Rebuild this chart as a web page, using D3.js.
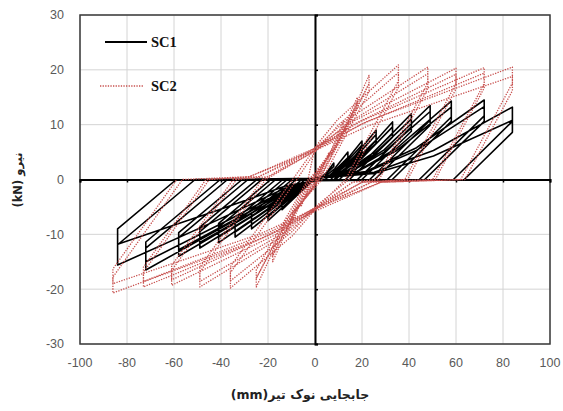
<!DOCTYPE html>
<html>
<head>
<meta charset="utf-8">
<script src="https://cdn.jsdelivr.net/npm/d3@7/dist/d3.min.js"></script>
<style>
  body { margin: 0; background: #ffffff; }
  svg { display: block; }
</style>
</head>
<body>
<svg id="chart" width="563" height="411"></svg>
<script>
// Axis ticks
const xTicks = [-100, -80, -60, -40, -20, 0, 20, 40, 60, 80, 100];
const yTicks = [-30, -20, -10, 0, 10, 20, 30];

// Series names (legend)
const seriesNames = ["SC1", "SC2"];

// SC1: tip displacement (mm), force (kN) - cyclic loops in loading order
const sc1Points = [
  [0, 0], [2.4, 0.3], [4.8, 1.2], [8, 3], [8, 2.4], [2.3, 0], [0, -0.2], [-1.2, -0.3], [-4, -1.45], [-8, -3], [-8, -2.3], [-1.7, 0],
  [0, 0.2], [4.2, 0.5], [8.4, 2], [14, 5], [14, 4], [4.5, 0], [0, -0.2], [-2.1, -0.55], [-7, -2.65], [-14, -5.5], [-14, -4.2], [-2.4, 0],
  [0, 0.2], [6, 0.7], [12, 2.8], [20, 7], [20, 5.6], [6.7, 0], [0, -0.2], [-3, -0.75], [-10, -3.6], [-20, -7.5], [-20, -5.7], [-4.2, 0],
  [0, 0.2], [6, 0.6], [12, 2.5], [20, 6.3], [20, 5], [8.1, 0], [0, -0.2], [-3, -0.7], [-10, -3.25], [-20, -6.8], [-20, -5.2], [-5.6, 0],
  [0, 0.2], [7.8, 0.9], [15.6, 3.6], [26, 9], [26, 7.2], [8.9, 0], [0, -0.2], [-4, -0.9], [-13.5, -4.3], [-27, -9], [-27, -6.8], [-8, 0],
  [0, 0.2], [7.8, 0.8], [15.6, 3.3], [26, 8.2], [26, 6.6], [10.4, 0], [0, -0.2], [-4, -0.8], [-13.5, -3.9], [-27, -8.2], [-27, -6.2], [-9.7, 0],
  [0, 0.2], [9.9, 1.05], [19.8, 4.2], [33, 10.5], [33, 8.4], [13, 0], [0, -0.2], [-5.1, -1.05], [-17, -5], [-34, -10.5], [-34, -8], [-11.8, 0],
  [0, 0.2], [9.9, 0.96], [19.8, 3.8], [33, 9.6], [33, 7.7], [14.7, 0], [0, -0.2], [-5.1, -0.96], [-17, -4.6], [-34, -9.6], [-34, -7.3], [-13.7, 0],
  [0, 0.2], [12.3, 1.2], [24.6, 4.8], [41, 12], [41, 9.6], [18.1, 0], [0, -0.2], [-6.2, -1.15], [-20.5, -5.5], [-41, -11.5], [-41, -8.7], [-16.7, 0],
  [0, 0.2], [12.3, 1.1], [24.6, 4.4], [41, 11], [41, 8.8], [20, 0], [0, -0.2], [-6.2, -1.05], [-20.5, -5], [-41, -10.5], [-41, -8], [-18.8, 0],
  [0, 0.2], [14.7, 1.35], [29.4, 5.4], [49, 13.5], [49, 10.8], [23.3, 0], [0, -0.2], [-7.4, -1.25], [-24.5, -6], [-49, -12.5], [-49, -9.5], [-22.6, 0],
  [0, 0.2], [14.7, 1.25], [29.4, 5], [49, 12.4], [49, 9.9], [25.4, 0], [0, -0.2], [-7.4, -1.15], [-24.5, -5.5], [-49, -11.5], [-49, -8.7], [-24.7, 0],
  [0, 0.2], [17.4, 1.4], [34.8, 5.7], [58, 14.3], [58, 11.4], [30.8, 0], [0, -0.2], [-8.7, -1.4], [-29, -6.7], [-58, -14], [-58, -10.6], [-28.5, 0],
  [0, 0.2], [17.4, 1.3], [34.8, 5.3], [58, 13.2], [58, 10.6], [32.9, 0], [0, -0.2], [-8.7, -1.3], [-29, -6.1], [-58, -12.8], [-58, -9.7], [-31, 0],
  [0, 0.2], [21.6, 1.45], [43.2, 5.8], [72, 14.5], [72, 11.6], [44.4, 0], [0, -0.2], [-10.8, -1.65], [-36, -7.9], [-72, -16.5], [-72, -12.5], [-37.2, 0],
  [0, 0.2], [21.6, 1.3], [43.2, 5.3], [72, 13.3], [72, 10.6], [46.7, 0], [0, -0.2], [-10.8, -1.5], [-36, -7.2], [-72, -15], [-72, -11.4], [-40.3, 0],
  [0, 0.2], [25.2, 1.3], [50.4, 5.3], [84, 13.2], [84, 10.6], [58.9, 0], [0, -0.2], [-12.6, -1.55], [-42, -7.5], [-84, -15.6], [-84, -11.9], [-51, 0],
  [0, 0.2], [25.2, 1.1], [50.4, 4.3], [84, 10.8], [84, 8.6], [63.5, 0], [0, -0.2], [-12.6, -1.2], [-42, -5.7], [-84, -11.8], [-84, -9], [-59, 0]
];

// SC2: tip displacement (mm), force (kN)
const sc2Points = [
  [0, 0], [3, 2.1], [6, 5], [6, 4.6], [0.5, 0], [-3, -2.1], [-6, -5], [-6, -4.6], [-0.5, 0],
  [6, 4.4], [12, 10.5], [12, 9.7], [1, 0], [-6, -4.2], [-12, -10], [-12, -9.2], [-1, 0],
  [9, 6.3], [18, 15], [18, 13.8], [1.5, 0], [-9, -6.3], [-18, -15], [-18, -13.8], [-1.5, 0],
  [8.5, 5.6], [18, 14], [18, 12.9], [1.8, 0], [-8.5, -5.6], [-18, -14], [-18, -12.9], [-1.8, 0],
  [11.5, 8], [23, 19], [23, 17.5], [2, 0], [-12.5, -8.2], [-25, -19.6], [-25, -18], [-2.5, 0],
  [11, 7], [23, 17.5], [23, 16], [3, 0], [-12, -7.2], [-25, -18], [-25, -16.5], [-3, 0],
  [0, 5.9], [9.6, 10.9], [35.5, 20.9], [35.5, 18], [13, 0], [0, -5.5], [-9.7, -10.3], [-36, -19.8], [-36, -17], [-7.7, 0],
  [0, 5], [9.6, 9.8], [35.5, 19.5], [35.5, 16.8], [14.5, 0], [0, -5], [-9.7, -9.5], [-36, -18.5], [-36, -15.9], [-9.5, 0],
  [0, 5.7], [13, 10.7], [48, 20.5], [48, 17.6], [26, 0], [16, -0.5], [0, -5.5], [-13.2, -10.2], [-49, -19.6], [-49, -16.9], [-21, 0],
  [0, 5.2], [13, 10], [48, 19.3], [48, 16.6], [27.3, 0], [16, -0.5], [0, -5.2], [-13.2, -9.7], [-49, -18.6], [-49, -16], [-22.4, 0],
  [-20, 0.5], [0, 5.7], [16.2, 10.6], [60, 20.3], [60, 17.5], [38.2, 0], [20, -0.5], [0, -5.4], [-16.5, -10], [-61, -19.3], [-61, -16.6], [-33.4, 0],
  [-20, 0.5], [0, 5.2], [16.2, 10], [60, 19.2], [60, 16.5], [39.4, 0], [20, -0.5], [0, -5.1], [-16.5, -9.5], [-61, -18.3], [-61, -15.7], [-34.8, 0],
  [-24, 0.5], [0, 5.7], [19.4, 10.6], [72, 20.4], [72, 17.5], [50.1, 0], [24, -0.5], [0, -5.5], [-19.7, -10.2], [-73, -19.6], [-73, -16.9], [-45, 0],
  [-24, 0.5], [0, 5.3], [19.4, 10], [72, 19.4], [72, 16.7], [51.2, 0], [24, -0.5], [0, -5.2], [-19.7, -9.7], [-73, -18.6], [-73, -16], [-46.4, 0],
  [-28, 0.5], [0, 5.7], [22.7, 10.7], [84, 20.5], [84, 17.6], [62, 0], [28, -0.5], [0, -5.8], [-23.2, -10.8], [-86, -20.7], [-86, -17.8], [-56.4, 0],
  [-28, 0.5], [0, 5.3], [22.7, 9.8], [84, 18.8], [84, 16.2], [63.8, 0], [28, -0.5], [0, -5.3], [-23.2, -9.9], [-86, -19], [-86, -16.3], [-58.8, 0]
];

const svg = d3.select("#chart");
const plot = { left: 80, right: 550, top: 15, bottom: 344 };

const x = d3.scaleLinear().domain([-100, 100]).range([plot.left, plot.right]);
const y = d3.scaleLinear().domain([-30, 30]).range([plot.bottom, plot.top]);

const styles = {
  SC1: { stroke: "#000000", width: 1.6, dash: null },
  SC2: { stroke: "#c8514f", width: 1.3, dash: "1.3,1.3" }
};

// Gridlines
const grid = svg.append("g").attr("class", "grid");
grid.selectAll("line.h").data(yTicks).join("line")
  .attr("x1", plot.left).attr("x2", plot.right)
  .attr("y1", d => y(d)).attr("y2", d => y(d))
  .attr("stroke", "#d4d4d4").attr("stroke-width", 1);
grid.selectAll("line.v").data(xTicks).join("line")
  .attr("x1", d => x(d)).attr("x2", d => x(d))
  .attr("y1", plot.top).attr("y2", plot.bottom)
  .attr("stroke", "#d4d4d4").attr("stroke-width", 1);

// Plot frame
svg.append("rect")
  .attr("x", plot.left).attr("y", plot.top)
  .attr("width", plot.right - plot.left).attr("height", plot.bottom - plot.top)
  .attr("fill", "none").attr("stroke", "#3a3a3a").attr("stroke-width", 1.5);

// Axes crossing at zero
const yAxis = d3.axisRight(y).tickValues(yTicks).tickSize(3).tickFormat("");
svg.append("g").attr("transform", `translate(${x(0)},0)`).call(yAxis)
  .call(g => g.select(".domain").attr("stroke", "#000").attr("stroke-width", 2))
  .call(g => g.selectAll(".tick line").attr("stroke", "#000").attr("stroke-width", 1.5));
const xAxis = d3.axisBottom(x).tickValues(xTicks).tickSize(3).tickFormat("");
svg.append("g").attr("transform", `translate(0,${y(0)})`).call(xAxis)
  .call(g => g.select(".domain").attr("stroke", "#000").attr("stroke-width", 2))
  .call(g => g.selectAll(".tick line").attr("stroke", "#000").attr("stroke-width", 1.5));

// Curves
const line = d3.line().x(d => x(d[0])).y(d => y(d[1]));
const curves = svg.append("g").attr("class", "curves");
[["SC1", sc1Points], ["SC2", sc2Points]].forEach(([name, pts]) => {
  const s = styles[name];
  curves.append("path")
    .datum(pts)
    .attr("d", line)
    .attr("fill", "none")
    .attr("stroke", s.stroke)
    .attr("stroke-width", s.width)
    .attr("stroke-linejoin", "round")
    .attr("stroke-dasharray", s.dash);
});

// Tick labels
const tickFont = "'Liberation Sans', Arial, sans-serif";
svg.append("g").selectAll("text").data(yTicks).join("text")
  .attr("x", 64).attr("y", d => y(d)).attr("dy", "0.35em")
  .attr("text-anchor", "end")
  .attr("font-family", tickFont).attr("font-size", 12.5).attr("fill", "#595959")
  .text(d => d);
svg.append("g").selectAll("text").data(xTicks).join("text")
  .attr("x", d => x(d)).attr("y", 367)
  .attr("text-anchor", "middle")
  .attr("font-family", tickFont).attr("font-size", 12.5).attr("fill", "#595959")
  .text(d => d);

// Axis titles
svg.append("text")
  .attr("x", 300).attr("y", 399)
  .attr("text-anchor", "middle").attr("direction", "rtl")
  .attr("font-family", "'DejaVu Sans', sans-serif").attr("font-weight", "bold")
  .attr("font-size", 12.5).attr("fill", "#222")
  .text("جابجایی نوک تیر(mm)");
svg.append("text")
  .attr("transform", "translate(22,180) rotate(-90)")
  .attr("text-anchor", "middle").attr("direction", "rtl")
  .attr("font-family", "'DejaVu Sans', sans-serif").attr("font-weight", "bold")
  .attr("font-size", 11.5).attr("fill", "#222")
  .text("نیرو (kN)");

// Legend
const legend = svg.append("g").attr("class", "legend");
const legendRows = [
  { name: seriesNames[0], x1: 105, x2: 147, y: 42 },
  { name: seriesNames[1], x1: 100, x2: 143, y: 86 }
];
legendRows.forEach(r => {
  const s = styles[r.name];
  legend.append("line")
    .attr("x1", r.x1).attr("x2", r.x2).attr("y1", r.y).attr("y2", r.y)
    .attr("stroke", s.stroke).attr("stroke-width", r.name === "SC1" ? 2 : 1.4)
    .attr("stroke-dasharray", s.dash);
  legend.append("text")
    .attr("x", 151).attr("y", r.y + 5)
    .attr("font-family", "'Liberation Serif', 'Times New Roman', serif")
    .attr("font-weight", "bold").attr("font-size", 14.5).attr("fill", "#111")
    .text(r.name);
});
</script>
</body>
</html>
